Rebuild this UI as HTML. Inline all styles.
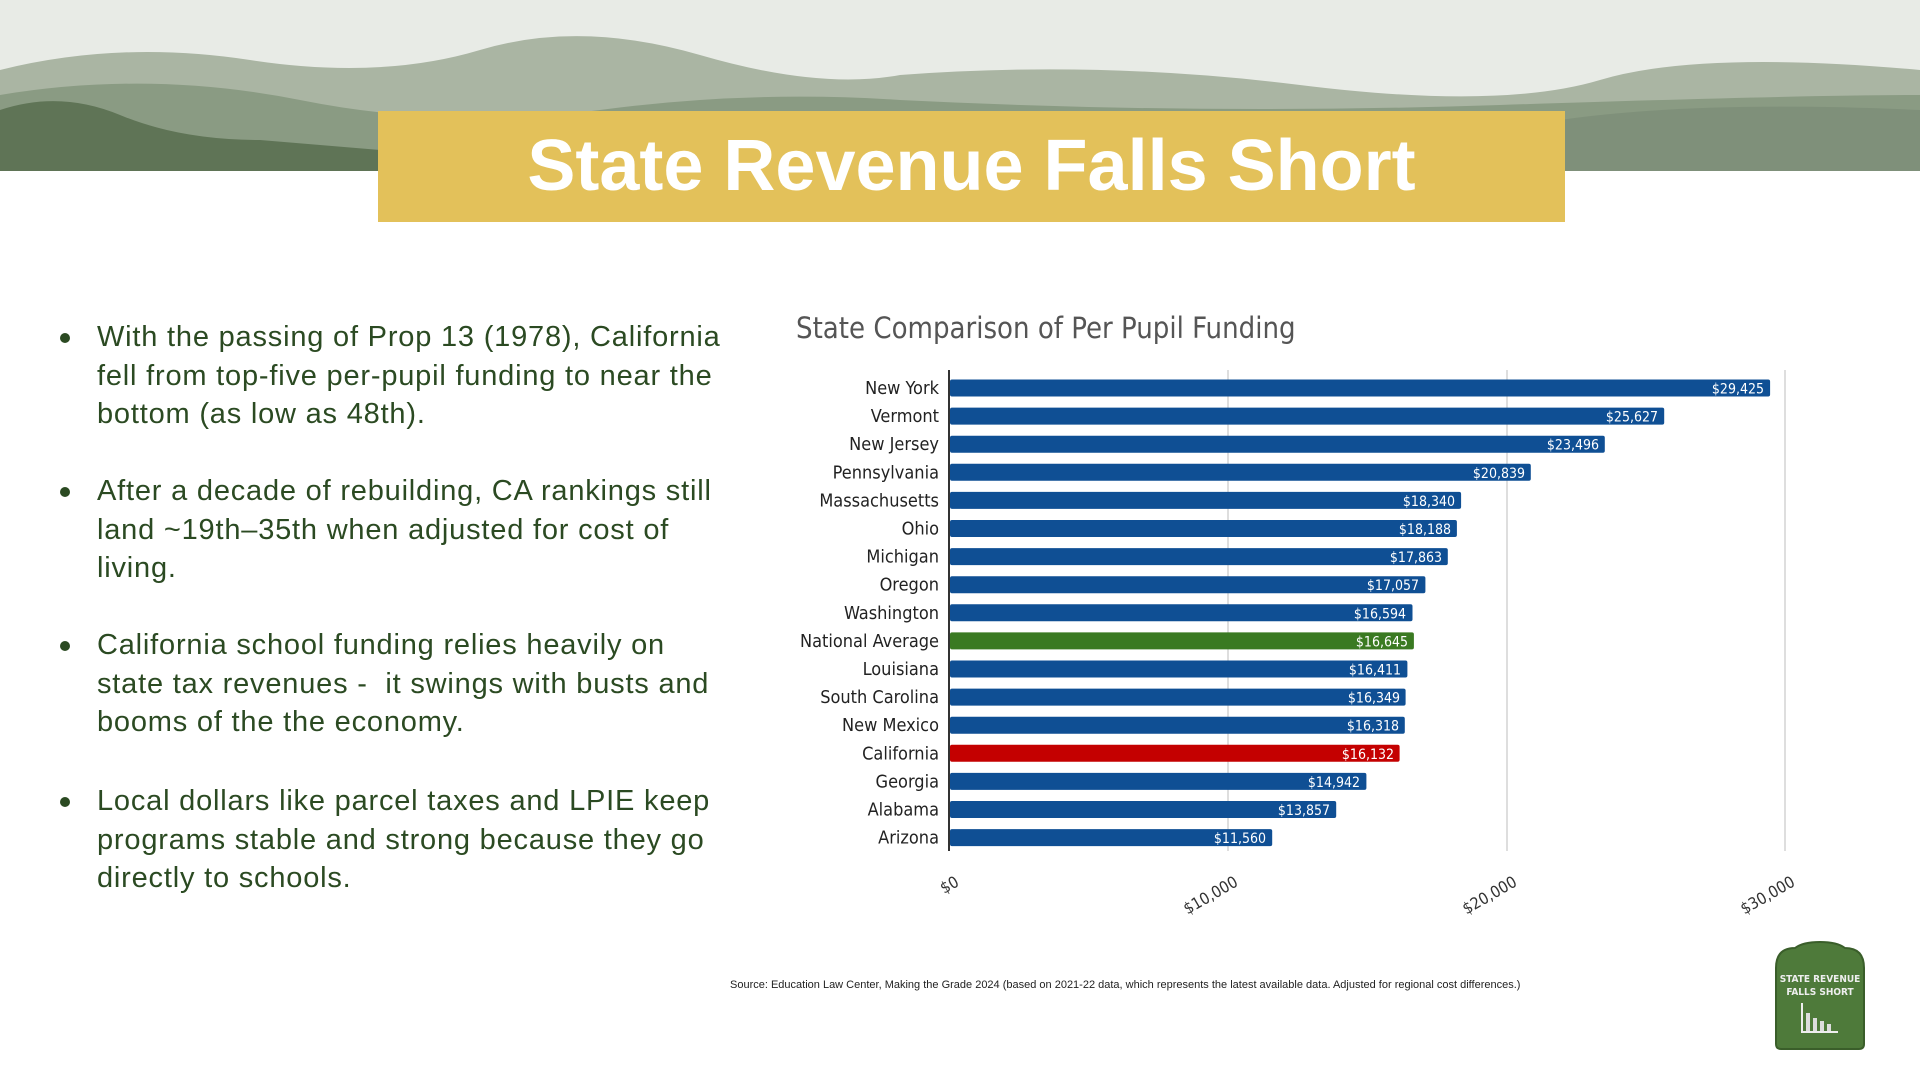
<!DOCTYPE html>
<html><head><meta charset="utf-8"><style>
body{margin:0;width:1920px;height:1080px;background:#fff;position:relative;overflow:hidden;font-family:"Liberation Sans",sans-serif}
.hdr{position:absolute;left:0;top:0;width:1920px;height:171px}
.tbox{position:absolute;left:378px;top:111px;width:1187px;height:111px;background:#E3C15A;color:#fff;font-weight:bold;font-size:72px;text-align:center;line-height:111px}
.bul{position:absolute;left:97px;white-space:nowrap;font-size:29px;letter-spacing:0.8px;line-height:38.6px;color:#2b4a22}
.bul:before{content:"";position:absolute;left:-37px;top:15px;width:10px;height:10px;border-radius:50%;background:#2b4a22}
.src{position:absolute;left:730px;top:979px;font-size:11px;color:#222}
.l{text-anchor:end;fill:#222;font-size:18px}
.v{text-anchor:end;fill:#fff;font-size:14px}
</style></head><body>
<svg class="hdr" viewBox="0 0 1920 171" preserveAspectRatio="none">
<rect width="1920" height="171" fill="#e8ebe6"/>
<path d="M0 70 Q120 40 250 60 T480 50 T700 55 T900 75 Q1100 60 1300 85 T1600 80 T1920 70 V171 H0Z" fill="#aab5a3"/>
<path d="M0 95 Q150 70 300 100 T600 110 T900 100 Q1200 115 1500 105 T1920 95 V171 H0Z" fill="#8a9b83"/>
<path d="M0 110 Q60 90 120 115 T260 140 L380 150 V171 H0Z" fill="#5f7456"/>
<path d="M1560 120 Q1700 100 1920 110 V171 H1560Z" fill="#7f907a"/>
</svg>
<div class="tbox">State Revenue Falls Short</div>
<div class="bul" style="top:318px">With the passing of Prop 13 (1978), California<br>fell from top-five per-pupil funding to near the<br>bottom (as low as 48th).</div>
<div class="bul" style="top:472px">After a decade of rebuilding, CA rankings still<br>land ~19th–35th when adjusted for cost of<br>living.</div>
<div class="bul" style="top:626px">California school funding relies heavily on<br>state tax revenues -&nbsp; it swings with busts and<br>booms of the the economy.</div>
<div class="bul" style="top:782px">Local dollars like parcel taxes and LPIE keep<br>programs stable and strong because they go<br>directly to schools.</div>
<svg style="position:absolute;left:0;top:0" width="1920" height="1080" font-family="DejaVu Sans Condensed, DejaVu Sans, sans-serif">
<text x="796" y="338" font-size="29" fill="#555">State Comparison of Per Pupil Funding</text>
<g stroke="#d4d4d4" stroke-width="1.5"><line x1="1228" y1="370" x2="1228" y2="851"/><line x1="1507" y1="370" x2="1507" y2="851"/><line x1="1785" y1="370" x2="1785" y2="851"/></g>
<line x1="949" y1="370" x2="949" y2="851" stroke="#333" stroke-width="2"/>
<g transform="translate(0,388)"><text class="l" x="939" y="6">New York</text><rect x="950" y="-8.5" width="820.1" height="17" rx="2" fill="#0f4f94"/><text class="v" x="1764" y="5.5">$29,425</text></g>
<g transform="translate(0,416.1)"><text class="l" x="939" y="6">Vermont</text><rect x="950" y="-8.5" width="714.2" height="17" rx="2" fill="#0f4f94"/><text class="v" x="1658" y="5.5">$25,627</text></g>
<g transform="translate(0,444.2)"><text class="l" x="939" y="6">New Jersey</text><rect x="950" y="-8.5" width="654.8" height="17" rx="2" fill="#0f4f94"/><text class="v" x="1599" y="5.5">$23,496</text></g>
<g transform="translate(0,472.3)"><text class="l" x="939" y="6">Pennsylvania</text><rect x="950" y="-8.5" width="580.8" height="17" rx="2" fill="#0f4f94"/><text class="v" x="1525" y="5.5">$20,839</text></g>
<g transform="translate(0,500.4)"><text class="l" x="939" y="6">Massachusetts</text><rect x="950" y="-8.5" width="511.1" height="17" rx="2" fill="#0f4f94"/><text class="v" x="1455" y="5.5">$18,340</text></g>
<g transform="translate(0,528.5)"><text class="l" x="939" y="6">Ohio</text><rect x="950" y="-8.5" width="506.9" height="17" rx="2" fill="#0f4f94"/><text class="v" x="1451" y="5.5">$18,188</text></g>
<g transform="translate(0,556.6)"><text class="l" x="939" y="6">Michigan</text><rect x="950" y="-8.5" width="497.8" height="17" rx="2" fill="#0f4f94"/><text class="v" x="1442" y="5.5">$17,863</text></g>
<g transform="translate(0,584.7)"><text class="l" x="939" y="6">Oregon</text><rect x="950" y="-8.5" width="475.4" height="17" rx="2" fill="#0f4f94"/><text class="v" x="1419" y="5.5">$17,057</text></g>
<g transform="translate(0,612.8)"><text class="l" x="939" y="6">Washington</text><rect x="950" y="-8.5" width="462.5" height="17" rx="2" fill="#0f4f94"/><text class="v" x="1406" y="5.5">$16,594</text></g>
<g transform="translate(0,640.9)"><text class="l" x="939" y="6">National Average</text><rect x="950" y="-8.5" width="463.9" height="17" rx="2" fill="#3a7a22"/><text class="v" x="1408" y="5.5">$16,645</text></g>
<g transform="translate(0,669)"><text class="l" x="939" y="6">Louisiana</text><rect x="950" y="-8.5" width="457.4" height="17" rx="2" fill="#0f4f94"/><text class="v" x="1401" y="5.5">$16,411</text></g>
<g transform="translate(0,697.1)"><text class="l" x="939" y="6">South Carolina</text><rect x="950" y="-8.5" width="455.6" height="17" rx="2" fill="#0f4f94"/><text class="v" x="1400" y="5.5">$16,349</text></g>
<g transform="translate(0,725.2)"><text class="l" x="939" y="6">New Mexico</text><rect x="950" y="-8.5" width="454.8" height="17" rx="2" fill="#0f4f94"/><text class="v" x="1399" y="5.5">$16,318</text></g>
<g transform="translate(0,753.3)"><text class="l" x="939" y="6">California</text><rect x="950" y="-8.5" width="449.6" height="17" rx="2" fill="#c40000"/><text class="v" x="1394" y="5.5">$16,132</text></g>
<g transform="translate(0,781.4)"><text class="l" x="939" y="6">Georgia</text><rect x="950" y="-8.5" width="416.4" height="17" rx="2" fill="#0f4f94"/><text class="v" x="1360" y="5.5">$14,942</text></g>
<g transform="translate(0,809.5)"><text class="l" x="939" y="6">Alabama</text><rect x="950" y="-8.5" width="386.2" height="17" rx="2" fill="#0f4f94"/><text class="v" x="1330" y="5.5">$13,857</text></g>
<g transform="translate(0,837.6)"><text class="l" x="939" y="6">Arizona</text><rect x="950" y="-8.5" width="322.2" height="17" rx="2" fill="#0f4f94"/><text class="v" x="1266" y="5.5">$11,560</text></g>
<g font-size="16" fill="#333">
<text transform="translate(960,885) rotate(-30)" text-anchor="end">$0</text>
<text transform="translate(1239,885) rotate(-30)" text-anchor="end">$10,000</text>
<text transform="translate(1518,885) rotate(-30)" text-anchor="end">$20,000</text>
<text transform="translate(1796,885) rotate(-30)" text-anchor="end">$30,000</text>
</g>
<g>
<path d="M1776 968 Q1776 948 1795 948 Q1803 942 1820 942 Q1837 942 1845 948 Q1864 948 1864 968 V1044 Q1864 1049 1859 1049 H1781 Q1776 1049 1776 1044Z" fill="#4e7a3a" stroke="#3a5e2a" stroke-width="2"/>
<text x="1820" y="982" text-anchor="middle" font-size="10" fill="#eee" font-weight="bold">STATE REVENUE</text>
<text x="1820" y="995" text-anchor="middle" font-size="10" fill="#eee" font-weight="bold">FALLS SHORT</text>
<path d="M1802 1003 V1032 H1838" stroke="#eee" stroke-width="2" fill="none"/>
<g fill="#ddd"><rect x="1806" y="1013" width="4" height="18"/><rect x="1813" y="1018" width="4" height="13"/><rect x="1820" y="1021" width="4" height="10"/><rect x="1827" y="1024" width="4" height="7"/></g>
</g>
</svg>
<div class="src">Source: Education Law Center, Making the Grade 2024 (based on 2021-22 data, which represents the latest available data. Adjusted for regional cost differences.)</div>
</body></html>
